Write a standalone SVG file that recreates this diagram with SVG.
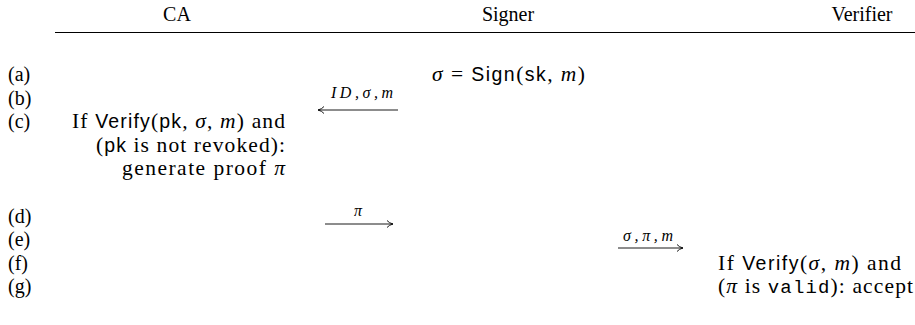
<svg xmlns="http://www.w3.org/2000/svg" width="915" height="325" viewBox="0 0 915 325">
<style>
text{font-family:"Liberation Serif","DejaVu Serif",serif;font-size:20px;fill:#000}
.b{font-size:21.5px}
.sf{font-family:"Liberation Sans","DejaVu Sans",sans-serif;font-size:19.5px}
.it{font-style:italic}
.tt{font-family:"Liberation Mono","DejaVu Sans Mono",monospace;font-size:19px}
.sm{font-size:16px;font-style:italic}
line.c{stroke:#000;stroke-width:0.9;fill:none}
</style>
<defs>
<marker id="ah" markerWidth="10" markerHeight="10" refX="7" refY="4" orient="auto" markerUnits="userSpaceOnUse">
<path d="M1,0.5 Q3,3 7,4 Q3,5 1,7.5" fill="none" stroke="#000" stroke-width="0.9"/>
</marker>
</defs>
<g id="header">
<text x="177" y="21" text-anchor="middle">CA</text>
<text x="508" y="21" text-anchor="middle">Signer</text>
<text x="862" y="21" text-anchor="middle">Verifier</text>
<line x1="55" y1="32.5" x2="915" y2="32.5" stroke="#000" stroke-width="1"/>
</g>
<g id="labels">
<text x="8" y="81">(a)</text>
<text x="8" y="105">(b)</text>
<text x="8" y="128">(c)</text>
<text x="8" y="223">(d)</text>
<text x="8" y="246">(e)</text>
<text x="8" y="270">(f)</text>
<text x="8" y="293">(g)</text>
</g>
<g id="signer-sign">
<text class="b" x="432" y="81" textLength="153" lengthAdjust="spacing"><tspan class="it">σ</tspan> = <tspan class="sf">Sign</tspan>(<tspan class="sf">sk</tspan>, <tspan class="it">m</tspan>)</text>
</g>
<g id="ca-check">
<text class="b" x="72" y="128" textLength="213" lengthAdjust="spacing">If <tspan class="sf">Verify</tspan>(<tspan class="sf">pk</tspan>, <tspan class="it">σ</tspan>, <tspan class="it">m</tspan>) and</text>
<text class="b" x="96" y="152" textLength="189" lengthAdjust="spacing">(<tspan class="sf">pk</tspan> is not revoked):</text>
<text class="b" x="122" y="175" textLength="163" lengthAdjust="spacing">generate proof <tspan class="it">π</tspan></text>
</g>
<g id="verifier-check">
<text class="b" x="718" y="270" textLength="183" lengthAdjust="spacing">If <tspan class="sf">Verify</tspan>(<tspan class="it">σ</tspan>, <tspan class="it">m</tspan>) and</text>
<text class="b" x="718" y="293" textLength="195" lengthAdjust="spacing">(<tspan class="it">π</tspan> is <tspan class="tt">valid</tspan>): accept</text>
</g>
<g id="connectors">
<line class="c" x1="398" y1="110" x2="318" y2="110" marker-end="url(#ah)"/>
<text class="sm" x="331" y="98" textLength="62" lengthAdjust="spacing">ID,σ,m</text>
<line class="c" x1="325" y1="224" x2="393" y2="224" marker-end="url(#ah)"/>
<text class="sm" x="358" y="216" text-anchor="middle">π</text>
<line class="c" x1="618" y1="248" x2="683" y2="248" marker-end="url(#ah)"/>
<text class="sm" x="623" y="241" textLength="50" lengthAdjust="spacing">σ,π,m</text>
</g>
</svg>
